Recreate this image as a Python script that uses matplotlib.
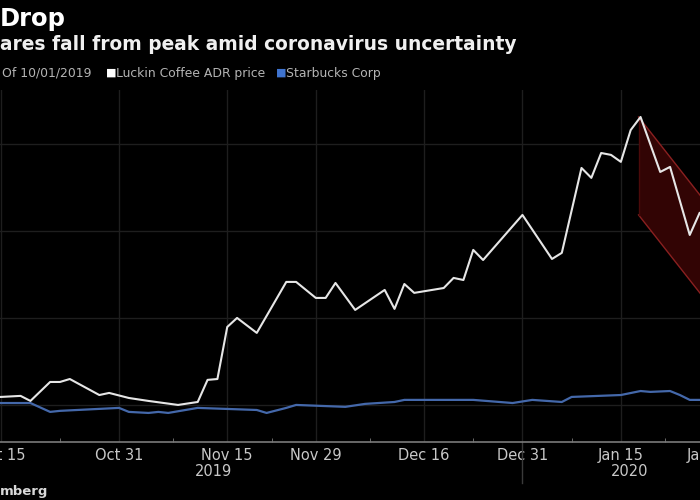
import matplotlib
matplotlib.use("Agg")
import matplotlib.pyplot as plt
from matplotlib.ticker import FixedLocator, NullFormatter

# ── Data (trading-day index since 10/01/2019, rebased to 100) ──────────────────
luckin_day = [9, 10, 12, 13, 15, 16, 17, 20, 21, 23, 25, 28, 30, 31, 32, 33, 34,
              36, 39, 40, 42, 43, 44, 46, 49, 50, 51, 52, 55, 56, 57, 58, 59, 63,
              66, 67, 69, 70, 71, 72, 73, 74, 75, 77, 78, 80, 81]
luckin_val = [104.6, 104.6, 105.2, 102.3, 113.2, 113.2, 114.9, 105.7, 106.9, 104.0,
              102.3, 100.0, 101.7, 114.4, 114.9, 144.8, 150.0, 141.4, 170.7, 170.7,
              161.5, 161.5, 170.1, 154.6, 166.1, 155.2, 169.5, 164.4, 167.2, 173.0,
              171.8, 189.1, 183.3, 209.2, 183.9, 187.4, 236.2, 230.5, 244.8, 243.7,
              239.7, 258.0, 265.5, 233.9, 236.8, 197.7, 210.3]

sbux_day = [9, 13, 15, 16, 22, 23, 25, 26, 27, 30, 36, 37, 39, 40, 45, 47, 50, 51,
            58, 62, 64, 67, 68, 73, 75, 76, 78, 79, 80, 81]
sbux_val = [101.1, 101.1, 96.0, 96.6, 98.3, 96.0, 95.4, 96.0, 95.4, 98.3, 97.1,
            95.4, 98.3, 100.0, 98.9, 100.6, 101.7, 102.9, 102.9, 101.1, 102.9,
            101.7, 104.6, 105.7, 108.0, 107.5, 108.0, 105.7, 102.9, 102.9]

# falling channel drawn from the January peak
drop_day   = [74.8, 83.0]
drop_upper = [265.5, 206.5]
drop_lower = [209.2, 150.2]

tick_day    = [10, 22, 33, 42, 53, 63, 73, 82]
tick_labels = ["Oct 15", "Oct 31", "Nov 15", "Nov 29", "Dec 16", "Dec 31", "Jan 15", "Jan 29"]
minor_day   = [16, 27.5, 37.5, 47.5, 58, 68, 77.5]
year_day    = [31.6, 73.9]
year_labels = ["2019", "2020"]
year_split  = 63
grid_vals   = [100, 150, 200, 250]

# ── Figure ─────────────────────────────────────────────────────────────────────
BG = "#000000"
fig = plt.figure(figsize=(7, 5), dpi=100, facecolor=BG)

# axes runs past both figure edges: the picture is a crop of a wider chart
ax = fig.add_axes([-60 / 700, 58 / 500, 820 / 700, 352 / 500], facecolor=BG)
ax.set_xlim(3.81, 87.14)
ax.set_ylim(78.7, 281.0)

for s in ("top", "right", "left"):
    ax.spines[s].set_visible(False)
ax.spines["bottom"].set_color("#7a7a7a")
ax.spines["bottom"].set_linewidth(1.2)

ax.xaxis.set_major_locator(FixedLocator(tick_day))
ax.set_xticklabels(tick_labels)
ax.xaxis.set_minor_locator(FixedLocator(minor_day))
ax.xaxis.set_minor_formatter(NullFormatter())
ax.tick_params(axis="x", which="major", length=0, pad=4, labelsize=10.5, labelcolor="#c8c8c8")
ax.tick_params(axis="x", which="minor", direction="in", length=3, color="#7a7a7a")
ax.yaxis.set_major_locator(FixedLocator(grid_vals))
ax.tick_params(axis="y", length=0, labelleft=False)
ax.grid(True, which="major", color="#1e1e1e", lw=1.0)

# ── Series ─────────────────────────────────────────────────────────────────────
ax.fill_between(drop_day, drop_lower, drop_upper, color="#320404", lw=0, zorder=2)
ax.plot(drop_day, drop_upper, color="#8a2020", lw=1.0, zorder=2)
ax.plot(drop_day, drop_lower, color="#8a2020", lw=1.0, zorder=2)
ax.plot([drop_day[0], drop_day[0]], [drop_lower[0], drop_upper[0]], color="#4a0a0a", lw=1.0, zorder=2)

ax.plot(sbux_day, sbux_val, color="#4468aa", lw=1.6, zorder=3)
ax.plot(luckin_day, luckin_val, color="#e6e6e6", lw=1.5, zorder=4)

# year labels and the year divider under the axis
for d, lbl in zip(year_day, year_labels):
    ax.annotate(lbl, xy=(d, 0), xycoords=("data", "axes fraction"),
                xytext=(0, -30), textcoords="offset pixels",
                ha="center", va="center", fontsize=10.5, color="#c8c8c8")
ax.plot([year_split, year_split], [0, -41 / 352], transform=ax.get_xaxis_transform(),
        color="#3a3a3a", lw=1.0, clip_on=False)

# ── Header / footer text ───────────────────────────────────────────────────────
fig.text(0.0, 1 - 19 / 500, "Drop", fontsize=17.5, fontweight="bold",
         color="#ffffff", ha="left", va="center")
fig.text(0.0, 1 - 45 / 500, "ares fall from peak amid coronavirus uncertainty",
         fontsize=13.4, fontweight="bold", color="#f0f0f0", ha="left", va="center")

fig.text(2 / 700, 1 - 73 / 500, "Of 10/01/2019", fontsize=8.9, color="#b4b4b4",
         ha="left", va="center")
fig.text(106 / 700, 1 - 73 / 500, "\u25a0", fontsize=8, color="#ffffff", ha="left", va="center")
fig.text(116 / 700, 1 - 73 / 500, "Luckin Coffee ADR price", fontsize=8.9, color="#b4b4b4",
         ha="left", va="center")
fig.text(276 / 700, 1 - 73 / 500, "\u25a0", fontsize=8, color="#3f74d0", ha="left", va="center")
fig.text(286 / 700, 1 - 73 / 500, "Starbucks Corp", fontsize=8.9, color="#b4b4b4",
         ha="left", va="center")

fig.text(0.0, 1 - 492 / 500, "mberg", fontsize=9.5, fontweight="bold", color="#d8d8d8",
         ha="left", va="center")

fig.savefig("out.png", dpi=100, facecolor=BG)
